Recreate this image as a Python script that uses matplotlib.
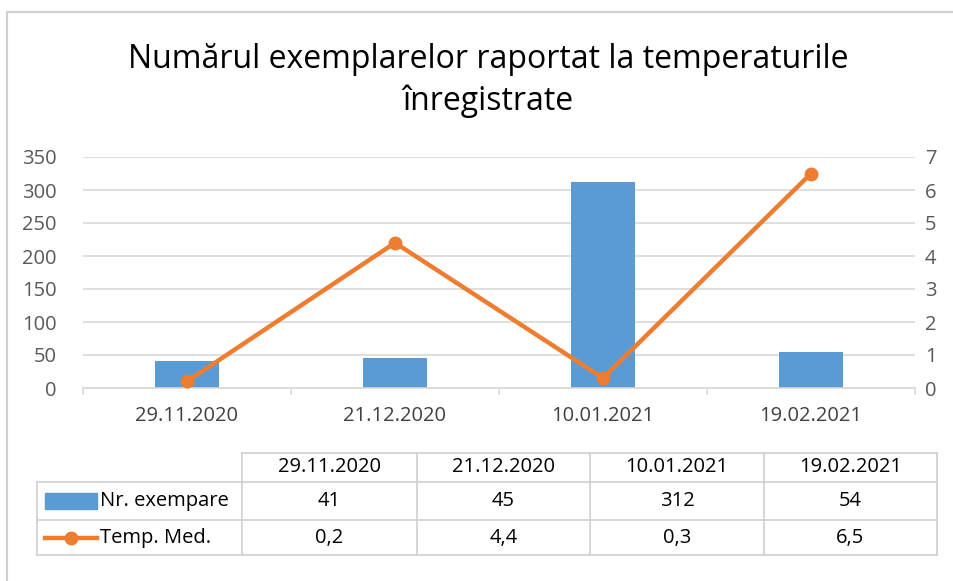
import matplotlib.pyplot as plt
import numpy as np

# data
dates = ['29.11.2020', '21.12.2020', '10.01.2021', '19.02.2021']
nr_exemplare = [41, 45, 312, 54]
temp_med = [0.2, 4.4, 0.3, 6.5]
series_names = ['Nr. exempare', 'Temp. Med.']
title = 'Numărul exemplarelor raportat la temperaturile\nînregistrate'

blue = '#5B9BD5'
orange = '#ED7D31'
grid_col = '#D9D9D9'
tick_col = '#595959'
fs = 14.5

plt.rcParams['font.family'] = ['Open Sans', 'DejaVu Sans']

W, H = 954, 581
fig = plt.figure(figsize=(W / 100, H / 100), dpi=100)

# overlay axes in pixel coordinates for border and table
over = fig.add_axes([0, 0, 1, 1])
over.set_xlim(0, W)
over.set_ylim(H, 0)
over.axis('off')
over.plot([7, 7, W], [H, 12, 12], color='#D0D0D0', lw=1.5)

over.text(488, 59, title.split('\n')[0], ha='center', va='center', fontsize=23, color='#000000')
over.text(488, 101, title.split('\n')[1], ha='center', va='center', fontsize=23, color='#000000')

# main chart
left, right, top, bottom = 83, 915, 157, 388
ax = fig.add_axes([left / W, (H - bottom) / H, (right - left) / W, (bottom - top) / H])
x = np.arange(len(dates))
ax.bar(x, nr_exemplare, width=0.31, color=blue, zorder=2)
ax.set_xlim(-0.5, len(dates) - 0.5)
ax.set_ylim(0, 350)
ax.set_yticks(np.arange(0, 351, 50))
ax.yaxis.grid(True, color=grid_col, lw=1.2, zorder=0)
ax.set_axisbelow(True)
for s in ['left', 'right', 'top']:
    ax.spines[s].set_visible(False)
ax.spines['bottom'].set_color(grid_col)
ax.spines['bottom'].set_linewidth(1.2)
ax.tick_params(axis='y', length=0, labelsize=fs, labelcolor=tick_col, pad=19)
ax.set_xticks(np.arange(-0.5, len(dates), 1))
ax.set_xticklabels([])
ax.tick_params(axis='x', which='major', length=5, color=grid_col, width=1.2)
ax.set_xticks(x, minor=True)
ax.set_xticklabels(dates, minor=True)
ax.tick_params(axis='x', which='minor', length=0, labelsize=fs, labelcolor='#404040', pad=13)

ax2 = ax.twinx()
ax2.plot(x, temp_med, color=orange, lw=3.2, marker='o', markersize=9, zorder=3)
ax2.set_ylim(0, 7)
ax2.set_yticks(np.arange(0, 8, 1))
for s in ['left', 'right', 'top', 'bottom']:
    ax2.spines[s].set_visible(False)
ax2.tick_params(axis='y', length=0, labelsize=fs, labelcolor=tick_col, pad=7)

# data table
col_x = [242, 417, 590, 764, 937]
row_y = [453, 482, 520, 555]
lc = '#D0D0D0'
over.plot([col_x[0], col_x[-1]], [row_y[0], row_y[0]], color=lc, lw=1.2)
for yy in row_y[1:]:
    over.plot([37, col_x[-1]], [yy, yy], color=lc, lw=1.2)
over.plot([37, 37], [row_y[1], row_y[-1]], color=lc, lw=1.2)
for xx in col_x:
    over.plot([xx, xx], [row_y[0], row_y[-1]], color=lc, lw=1.2)

for i, d in enumerate(dates):
    cx = (col_x[i] + col_x[i + 1]) / 2
    over.text(cx, (row_y[0] + row_y[1]) / 2, d, ha='center', va='center', fontsize=fs, color='#000000')
    over.text(cx, (row_y[1] + row_y[2]) / 2, str(nr_exemplare[i]), ha='center', va='center', fontsize=fs, color='#000000')
    over.text(cx, (row_y[2] + row_y[3]) / 2, f'{temp_med[i]:.1f}'.replace('.', ','), ha='center', va='center',
              fontsize=fs, color='#000000')

# legend keys
ym1 = (row_y[1] + row_y[2]) / 2
ym2 = (row_y[2] + row_y[3]) / 2
over.add_patch(plt.Rectangle((45, ym1 - 8), 52, 16, color=blue))
over.plot([45, 97], [ym2, ym2], color=orange, lw=3.2)
over.plot([71], [ym2], marker='o', color=orange, markersize=9)
over.text(100, ym1, series_names[0], ha='left', va='center', fontsize=fs, color='#000000')
over.text(100, ym2, series_names[1], ha='left', va='center', fontsize=fs, color='#000000')

fig.savefig('out.png', dpi=100)
